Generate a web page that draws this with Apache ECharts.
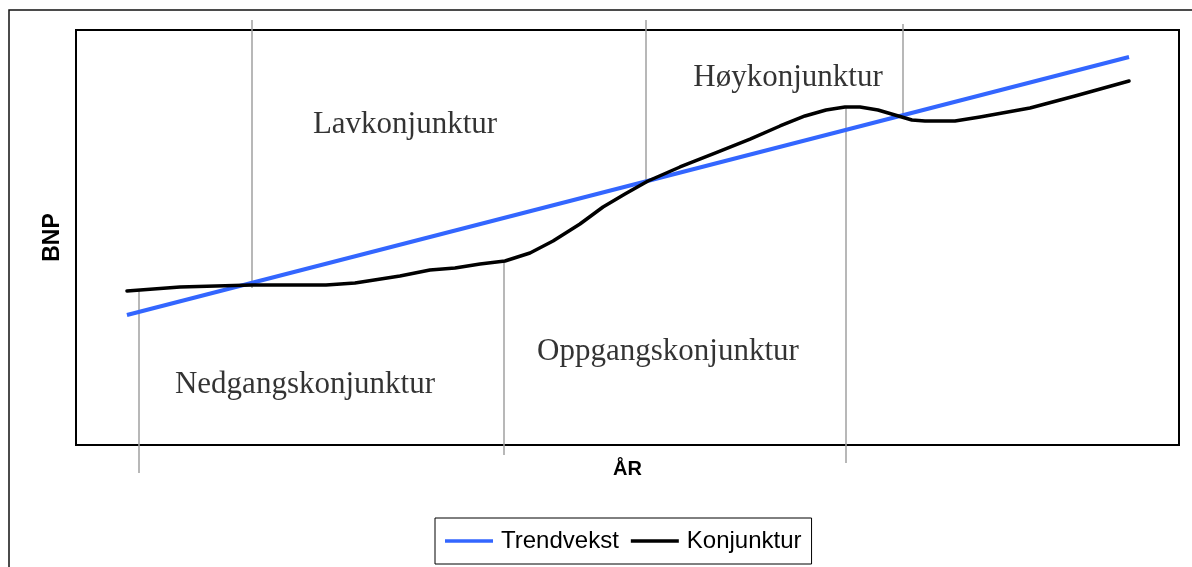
<!DOCTYPE html>
<html>
<head>
<meta charset="utf-8" />
<title>Konjunktur</title>
<script src="https://cdn.jsdelivr.net/npm/echarts@6/dist/echarts.min.js"></script>
<style>
  html, body { margin: 0; padding: 0; background: #fff; }
  #main { width: 1192px; height: 567px; }
</style>
</head>
<body>
<div id="main"></div>
<script>
// trend growth (straight line)
var trendYear = [4.62, 95.47];
var trendValue = [31.33, 93.49];

// business cycle curve
var cycleYear = [4.62, 9.43, 15.96, 22.67, 25.29, 29.37, 32.09, 34.36, 36.63, 38.89, 41.16, 43.25,
  45.69, 47.78, 49.77, 51.86, 54.76, 57.93, 61.11, 63.83, 66.09, 68.0, 69.72, 71.08, 72.71, 74.25,
  75.79, 76.97, 79.69, 81.96, 86.49, 90.57, 95.47];
var cycleValue = [37.11, 38.07, 38.55, 38.55, 39.04, 40.72, 42.17, 42.65, 43.61, 44.34, 46.27, 49.16,
  53.25, 57.35, 60.48, 63.61, 66.99, 70.36, 73.73, 76.87, 79.28, 80.72, 81.45, 81.45, 80.72, 79.52,
  78.31, 78.07, 78.07, 79.04, 81.2, 84.1, 87.71];

// grey phase markers (vertical lines)
var markerYear = [5.71, 15.96, 38.8, 51.68, 69.81, 74.98];
var markerTop = [37.35, 102.41, 44.1, 102.41, 81.45, 101.45];
var markerBottom = [-6.75, 37.83, -2.41, 63.37, -4.34, 78.8];

// phase names
var phaseNames = ['Lavkonjunktur', 'Høykonjunktur', 'Oppgangskonjunktur', 'Nedgangskonjunktur'];
var phaseYear = [29.83, 64.55, 53.67, 20.76];
var phaseValue = [77.11, 88.43, 22.41, 14.46];

function pairs(xs, ys) {
  var out = [];
  for (var i = 0; i < xs.length; i++) out.push([xs[i], ys[i]]);
  return out;
}

var markerLines = [];
for (var i = 0; i < markerYear.length; i++) {
  markerLines.push({ coords: [[markerYear[i], markerTop[i]], [markerYear[i], markerBottom[i]]] });
}
var phaseData = [];
for (var j = 0; j < phaseNames.length; j++) {
  phaseData.push({ name: phaseNames[j], value: [phaseYear[j], phaseValue[j]] });
}

var myChart = echarts.init(document.getElementById('main'));
var option = {
  animation: false,
  backgroundColor: '#fff',
  graphic: [{
    type: 'rect',
    shape: { x: 9, y: 10, width: 1300, height: 700 },
    style: { fill: 'none', stroke: '#111', lineWidth: 1.5 },
    silent: true
  }],
  grid: {
    left: 76, right: 13, top: 30, bottom: 122,
    show: true, borderColor: '#000', borderWidth: 2, backgroundColor: 'transparent'
  },
  legend: {
    data: [
      { name: 'Trendvekst', icon: 'rect', itemStyle: { color: '#3366ff' } },
      { name: 'Konjunktur', icon: 'rect', itemStyle: { color: '#000' } }
    ],
    left: 435, top: 518,
    orient: 'horizontal',
    borderColor: '#000', borderWidth: 1,
    padding: [11, 10, 11, 10],
    itemWidth: 48, itemHeight: 3.5, itemGap: 12,
    textStyle: { fontFamily: 'Liberation Sans', fontSize: 24, color: '#000', padding: [0, 0, 0, 3] }
  },
  xAxis: {
    type: 'value', min: 0, max: 100,
    name: 'ÅR', nameLocation: 'middle', nameGap: 14,
    nameTextStyle: { fontFamily: 'Liberation Sans', fontWeight: 'bold', fontSize: 20, color: '#000' },
    axisLine: { show: false }, axisTick: { show: false }, axisLabel: { show: false }, splitLine: { show: false }
  },
  yAxis: {
    type: 'value', min: 0, max: 100,
    name: 'BNP', nameLocation: 'middle', nameGap: 12, nameRotate: 90,
    nameTextStyle: { fontFamily: 'Liberation Sans', fontWeight: 'bold', fontSize: 23, color: '#000' },
    axisLine: { show: false }, axisTick: { show: false }, axisLabel: { show: false }, splitLine: { show: false }
  },
  series: [
    {
      name: 'markers', type: 'lines', coordinateSystem: 'cartesian2d', clip: false,
      silent: true, z: 1,
      lineStyle: { color: '#a0a0a0', width: 1.5, opacity: 1 },
      data: markerLines
    },
    {
      name: 'Trendvekst', type: 'line', symbol: 'none', z: 3,
      lineStyle: { color: '#3366ff', width: 4 },
      itemStyle: { color: '#3366ff' },
      data: pairs(trendYear, trendValue)
    },
    {
      name: 'Konjunktur', type: 'line', symbol: 'none', z: 4,
      smooth: false,
      lineStyle: { color: '#000', width: 3.5, join: 'round', cap: 'round' },
      itemStyle: { color: '#000' },
      data: pairs(cycleYear, cycleValue)
    },
    {
      name: 'faser', type: 'scatter', symbolSize: 1, silent: true, z: 5,
      itemStyle: { color: 'rgba(0,0,0,0)' },
      label: {
        show: true, position: 'inside', formatter: '{b}',
        fontFamily: 'Liberation Serif', fontSize: 31, color: '#000'
      },
      data: phaseData
    }
  ]
};
myChart.setOption(option);
</script>
</body>
</html>
